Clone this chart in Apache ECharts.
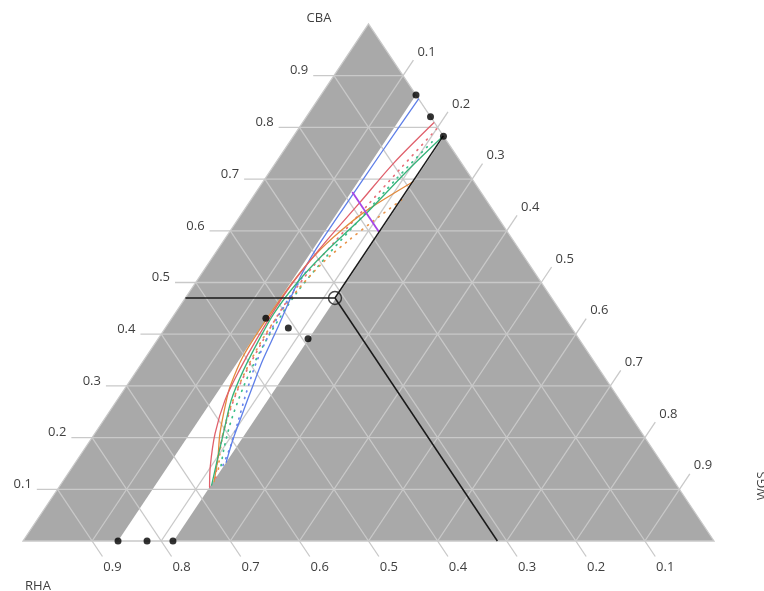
<!DOCTYPE html>
<html><head><meta charset="utf-8">
<script src="https://cdn.jsdelivr.net/npm/echarts@6/dist/echarts.min.js"></script>
<style>html,body{margin:0;padding:0;background:#fff}#c{width:764px;height:591px}</style>
</head><body><div id="c"></div>
<script>
// ---- data (ternary fractions; pairs are [CBA, WGS], RHA = 1 - CBA - WGS) ----
const ticks = [0.1, 0.2, 0.3, 0.4, 0.5, 0.6, 0.7, 0.8, 0.9];
const tickLabels = ['0.1', '0.2', '0.3', '0.4', '0.5', '0.6', '0.7', '0.8', '0.9'];
const axisTitles = ['CBA', 'RHA', 'WGS'];
const bandWGS = [0.1375, 0.218];
const endDots = [[0, 0.1375], [0, 0.1795], [0, 0.217], [0.8625, 0.1375], [0.8205, 0.1795], [0.783, 0.217]];
const midDots = [[0.431, 0.136], [0.412, 0.178], [0.391, 0.217]];
const refPoint = [0.47, 0.2165];
const purpleRHA = 0.186;
const purpleWGS = [0.139, 0.216];

const blueSolid = [[0.855,0.145],[0.75,0.143],[0.654,0.142],[0.557,0.142],[0.51,0.146],[0.46,0.154],[0.408,0.163],[0.35,0.172],[0.298,0.183],[0.248,0.194],[0.195,0.206],[0.152,0.218]];
const redSolid = [[0.809,0.19],[0.731,0.171],[0.654,0.160],[0.582,0.149],[0.518,0.142],[0.466,0.140],[0.389,0.143],[0.33,0.148],[0.273,0.156],[0.208,0.174],[0.144,0.199],[0.104,0.218]];
const greenSolid = [[0.782,0.216],[0.72,0.199],[0.634,0.18],[0.557,0.158],[0.50,0.147],[0.44,0.143],[0.389,0.147],[0.33,0.154],[0.273,0.165],[0.208,0.186],[0.15,0.205],[0.108,0.219]];
const orangeSolid = [[0.695,0.217],[0.64,0.178],[0.60,0.160],[0.557,0.147],[0.50,0.140],[0.42,0.138],[0.356,0.140],[0.30,0.150],[0.273,0.158],[0.208,0.181],[0.16,0.202],[0.115,0.219]];
const redDotted = [[0.797,0.2],[0.72,0.186],[0.65,0.174],[0.58,0.162],[0.52,0.153],[0.45,0.150],[0.38,0.154],[0.30,0.163],[0.22,0.182],[0.16,0.202],[0.122,0.218]];
const greenDotted = [[0.772,0.206],[0.70,0.19],[0.62,0.176],[0.55,0.164],[0.48,0.156],[0.40,0.157],[0.32,0.166],[0.24,0.183],[0.18,0.201],[0.135,0.218]];
const blueDotted = [[0.52,0.149],[0.47,0.150],[0.433,0.152],[0.35,0.164],[0.286,0.18],[0.23,0.196],[0.182,0.209],[0.137,0.218]];
const orangeDotted = [[0.66,0.218],[0.62,0.198],[0.58,0.18],[0.54,0.165],[0.48,0.154],[0.40,0.151],[0.32,0.159],[0.25,0.173],[0.19,0.192],[0.128,0.218]];

// ---- helpers ----
function toXY(c, w) { return [w + c / 2, c]; }
const EXT = 0.03;
const GRID_COLOR = '#c9c9c9';
const FILL = '#a9a9a9';
const TXT = '#3f3f3f';
const FONT = '13px "Open Sans", sans-serif';

const gridData = [];
[0, 1, 2].forEach(k => ticks.forEach((v, i) => gridData.push([k, v, i])));

function gridItem(params, api) {
  const k = api.value(0), v = api.value(1), i = api.value(2);
  let p0, p1, tx, ty, align, valign = 'middle';
  if (k === 0) {
    p0 = api.coord(toXY(v, -EXT)); p1 = api.coord(toXY(v, 1 - v));
    tx = p0[0] - 5; ty = p0[1] - 5; align = 'right';
  } else if (k === 1) {
    p0 = api.coord(toXY(1 - v, 0)); p1 = api.coord(toXY(-EXT, 1 - v + EXT));
    tx = p1[0] + 10; ty = p1[1] + 11; align = 'center';
  } else {
    p0 = api.coord(toXY(0, v)); p1 = api.coord(toXY(1 - v + EXT, v));
    tx = p1[0] + 4; ty = p1[1] - 8; align = 'left';
  }
  return {
    type: 'group', children: [
      { type: 'line', shape: { x1: p0[0], y1: p0[1], x2: p1[0], y2: p1[1] }, style: { stroke: GRID_COLOR, lineWidth: 1.3 } },
      { type: 'text', style: { text: tickLabels[i], x: tx, y: ty, align: align, verticalAlign: valign, textAlign: align, textVerticalAlign: valign, fill: TXT, font: FONT } }
    ]
  };
}

function fillItem(params, api) {
  const tri = [toXY(0, 0), toXY(0, 1), toXY(1, 0)].map(p => api.coord(p));
  const b0 = bandWGS[0], b1 = bandWGS[1];
  const band = [toXY(0, b0), toXY(0, b1), toXY(1 - b1, b1), toXY(1 - b0, b0)].map(p => api.coord(p));
  return {
    type: 'group', children: [
      { type: 'polygon', shape: { points: tri }, style: { fill: FILL } },
      { type: 'polygon', shape: { points: band }, style: { fill: '#ffffff' } }
    ]
  };
}

function borderItem(params, api) {
  const tri = [toXY(0, 0), toXY(0, 1), toXY(1, 0)].map(p => api.coord(p));
  return { type: 'polygon', shape: { points: tri }, style: { fill: null, stroke: GRID_COLOR, lineWidth: 1.3 } };
}

function crossItem(params, api) {
  const c = refPoint[0], w = refPoint[1], r = 1 - c - w;
  const p = api.coord(toXY(c, w));
  const a = api.coord(toXY(c, 0));
  const b = api.coord(toXY(1 - w, w));
  const d = api.coord(toXY(0, 1 - r));
  const st = { stroke: '#1a1a1a', lineWidth: 1.5 };
  return {
    type: 'group', children: [
      { type: 'line', shape: { x1: a[0], y1: a[1], x2: p[0], y2: p[1] }, style: st },
      { type: 'line', shape: { x1: p[0], y1: p[1], x2: b[0], y2: b[1] }, style: st },
      { type: 'line', shape: { x1: p[0], y1: p[1], x2: d[0], y2: d[1] }, style: st }
    ]
  };
}

function curve(name, pts, color, dotted) {
  return {
    type: 'line', name: name, data: pts.map(p => toXY(p[0], p[1])),
    showSymbol: false, symbol: 'none', smooth: 0.3, clip: false, z: 5,
    lineStyle: { color: color, width: dotted ? 1.7 : 1.3, type: dotted ? [1, 6] : 'solid', cap: 'round' }
  };
}

const chart = echarts.init(document.getElementById('c'), null, { renderer: 'canvas' });
chart.setOption({
  animation: false,
  grid: { left: 23, right: 50, top: 24, bottom: 50 },
  xAxis: { type: 'value', min: 0, max: 1, show: false },
  yAxis: { type: 'value', min: 0, max: 1, show: false },
  graphic: [
    { type: 'text', x: 319, y: 18, style: { text: axisTitles[0], align: 'center', verticalAlign: 'middle', textAlign: 'center', textVerticalAlign: 'middle', fill: TXT, font: FONT } },
    { type: 'text', x: 38, y: 586, style: { text: axisTitles[1], align: 'center', verticalAlign: 'middle', textAlign: 'center', textVerticalAlign: 'middle', fill: TXT, font: FONT } },
    { type: 'text', x: 762, y: 486, rotation: Math.PI / 2, style: { text: axisTitles[2], align: 'center', verticalAlign: 'middle', textAlign: 'center', textVerticalAlign: 'middle', fill: TXT, font: FONT } }
  ],
  series: [
    { type: 'custom', data: [[0, 0]], renderItem: fillItem, z: 1, silent: true, clip: false },
    { type: 'custom', data: gridData, renderItem: gridItem, z: 2, silent: true, clip: false },
    { type: 'custom', data: [[0, 0]], renderItem: borderItem, z: 2, silent: true, clip: false },
    curve('redDotted', redDotted, '#e8707a', true),
    curve('greenDotted', greenDotted, '#3cbf8a', true),
    curve('orangeDotted', orangeDotted, '#e8944a', true),
    curve('blueDotted', blueDotted, '#6a88ee', true),
    curve('blue', blueSolid, '#5f7fe8', false),
    curve('orange', orangeSolid, '#e38a3c', false),
    curve('green', greenSolid, '#36b37a', false),
    curve('red', redSolid, '#e0606c', false),
    {
      type: 'line', name: 'purple', data: purpleWGS.map(w => toXY(1 - purpleRHA - w, w)),
      showSymbol: false, symbol: 'none', z: 6, lineStyle: { color: '#a646e6', width: 1.8 }
    },
    { type: 'custom', data: [[0, 0]], renderItem: crossItem, z: 7, silent: true, clip: false },
    {
      type: 'scatter', data: endDots.concat(midDots).map(p => toXY(p[0], p[1])), symbolSize: 7, z: 8,
      itemStyle: { color: '#000' }, clip: false
    },
    {
      type: 'scatter', data: [toXY(refPoint[0], refPoint[1])], symbolSize: 13, z: 8,
      itemStyle: { color: 'rgba(0,0,0,0)', borderColor: '#1a1a1a', borderWidth: 1.4 }, clip: false
    }
  ]
});
</script></body></html>
